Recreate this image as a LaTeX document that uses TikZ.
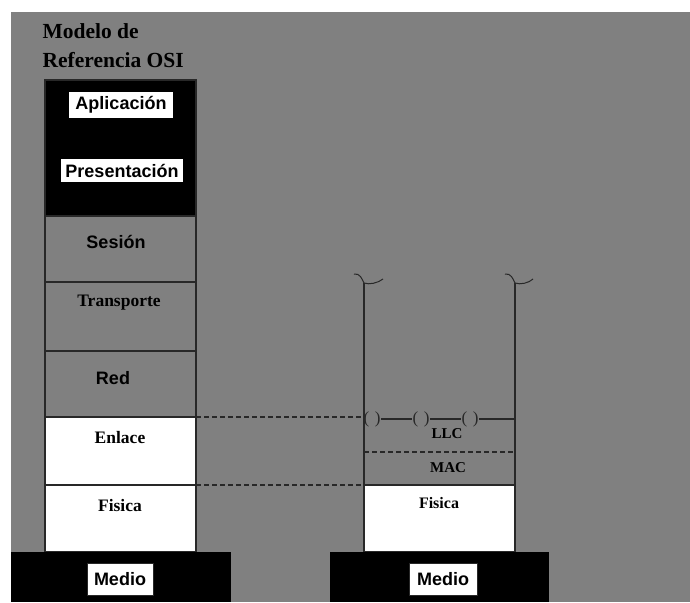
\documentclass[tikz,border=0pt]{standalone}
\usepackage{fontspec}
\setmainfont{Liberation Serif}
\setsansfont{Liberation Sans}
\definecolor{fondo}{RGB}{128,128,128}
\definecolor{linea}{RGB}{40,40,40}

\begin{document}
\begin{tikzpicture}[x=1pt, y=-1pt, line width=1.2pt,
  capa/.style={draw=linea, minimum width=151pt, inner sep=0pt, outer sep=0pt},
  negro/.style={fill=black, inner sep=0pt, outer sep=0pt},
  rotulo/.style={fill=white, font=\sffamily\bfseries\fontsize{18}{20}\selectfont, inner sep=0pt},
  texto/.style={font=\bfseries\fontsize{17.5}{19}\selectfont, inner sep=0pt},
  textochico/.style={font=\bfseries\fontsize{15}{17}\selectfont, inner sep=0pt},
  titulo/.style={font=\bfseries\fontsize{21.5}{24}\selectfont, inner sep=0pt},
  parentesis/.style={font=\fontsize{17}{18}\selectfont, inner sep=0pt, text=linea},
  trazo/.style={draw=linea, dash pattern=on 5pt off 3pt}]

\useasboundingbox (0,0) rectangle (690,602);
\fill[fondo] (11,12) rectangle (690,602);

\node[titulo, anchor=base west] (tit1) at (42,39) {Modelo de};
\node[titulo, anchor=base west] (tit2) at (42,67) {Referencia OSI};

% pila OSI
\node[capa, negro, minimum height=136pt] (sup) at (120.5,148) {};
\node[capa, fill=fondo, minimum height=66pt] (ses) at (120.5,249) {};
\node[capa, fill=fondo, minimum height=69pt] (tra) at (120.5,316.5) {};
\node[capa, fill=fondo, minimum height=66pt] (red) at (120.5,384) {};
\node[capa, fill=white, minimum height=68pt] (enl) at (120.5,451) {};
\node[capa, fill=white, minimum height=67pt] (fis) at (120.5,518.5) {};
\node[negro, minimum width=220pt, minimum height=50pt] (med1) at (121,577) {};

\node[rotulo, minimum width=104pt, minimum height=26pt] (apl) at (121,105) {Aplicación};
\node[rotulo, minimum width=122pt, minimum height=23pt] (pre) at (122,170.5) {Presentación};
\node[rotulo, fill=none] (tses) at (116,242) {Sesión};
\node[texto] (ttra) at (119,303) {Transporte};
\node[rotulo, fill=none] (tred) at (113,378) {Red};
\node[texto] (tenl) at (120,438) {Enlace};
\node[texto] (tfis) at (120,506) {Fisica};
\node[rotulo, draw=linea, line width=0.6pt, minimum width=66pt, minimum height=32pt] (tmed1) at (120,579) {Medio};

% pila IEEE
\node[capa, fill=white, minimum height=67pt] (fis2) at (439.5,518.5) {};
\node[negro, minimum width=219pt, minimum height=50pt] (med2) at (439.5,577) {};
\node[rotulo, draw=linea, line width=0.6pt, minimum width=68pt, minimum height=32pt] (tmed2) at (443,579) {Medio};

\coordinate (izqA) at (364,283);
\coordinate (derA) at (515,283);
\draw[linea] (izqA) -- (fis2.north west);
\draw[linea] (derA) -- (fis2.north east);

\draw[linea, line width=1pt] (354,274) .. controls (360,273) and (362,279) .. (izqA) .. controls (369,285) and (378,283) .. (383,279);
\draw[linea, line width=1pt] (505,274) .. controls (511,273) and (513,279) .. (derA) .. controls (520,285) and (529,283) .. (533,279);

\node[parentesis] (p1) at (372,419) {(\,\,)};
\node[parentesis] (p2) at (421,419) {(\,\,)};
\node[parentesis] (p3) at (470,419) {(\,\,)};
\draw[linea] (p1.east) -- (p2.west);
\draw[linea] (p2.east) -- (p3.west);
\draw[linea] (p3.east) -- (p3.east -| fis2.east);

\coordinate (macI) at (364,452);
\coordinate (macD) at (515,452);
\draw[trazo] (macI) -- (macD);

\node[textochico] (tllc) at (447,434) {LLC};
\node[textochico] (tmac) at (448,468) {MAC};
\node[texto, font=\bfseries\fontsize{16}{18}\selectfont] (tfis2) at (439,503) {Fisica};

\draw[trazo] (enl.north east) -- (enl.north east -| fis2.west);
\draw[trazo] (fis.north east) -- (fis2.north west);

\end{tikzpicture}
\end{document}
